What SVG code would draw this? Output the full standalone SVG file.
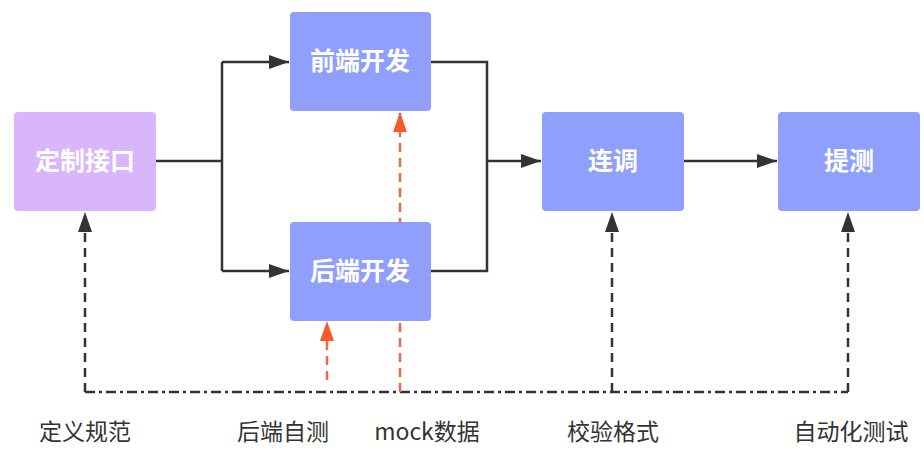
<svg xmlns="http://www.w3.org/2000/svg" width="924" height="455" viewBox="0 0 924 455">
<style>
.box{fill:#8f9ffb}
.purple{fill:#d9b6fb}
.nt{font-family:"Noto Sans CJK SC","Noto Sans",sans-serif;font-size:25px;font-weight:bold;fill:#ffffff;text-anchor:middle}
.lt{font-family:"Noto Sans CJK SC","Noto Sans",sans-serif;font-size:23px;fill:#333333;text-anchor:middle}
.solid{stroke:#333333;stroke-width:2.5;fill:none}
.dash{stroke:#333333;stroke-width:2.5;fill:none;stroke-dasharray:9 6}
.dashdot{stroke:#333333;stroke-width:2.5;fill:none;stroke-dasharray:10 4 3 4}
.odash{stroke:#f06a45;stroke-width:2.5;fill:none;stroke-dasharray:9 6}
</style>
<defs>
<marker id="ab" viewBox="0 0 20 14" refX="20" refY="7" markerWidth="20" markerHeight="14" markerUnits="userSpaceOnUse" orient="auto">
<path d="M0,0 L20,7 L0,14 Z" fill="#333333"/>
</marker>
<marker id="ao" viewBox="0 0 20 14" refX="20" refY="7" markerWidth="20" markerHeight="14" markerUnits="userSpaceOnUse" orient="auto">
<path d="M0,0 L20,7 L0,14 Z" fill="#f75a2a"/>
</marker>
</defs>
<rect width="924" height="455" fill="#ffffff"/>
<g id="connectors">
<path class="solid" d="M156,161 H222 M222,62 V271"/>
<path class="solid" d="M222,62 H289" marker-end="url(#ab)"/>
<path class="solid" d="M222,271 H289" marker-end="url(#ab)"/>
<path class="solid" d="M431,62 H487 V271 H431"/>
<path class="solid" d="M487,161 H541" marker-end="url(#ab)"/>
<path class="solid" d="M684,161 H777" marker-end="url(#ab)"/>
<path class="dashdot" d="M85,392 H848"/>
<path class="dash" d="M85,392 V212" marker-end="url(#ab)"/>
<path class="dash" d="M612,392 V212" marker-end="url(#ab)"/>
<path class="dash" d="M848,392 V212" marker-end="url(#ab)"/>
<path class="odash" d="M327,380 V321" marker-end="url(#ao)"/>
<path class="odash" d="M400,392 V112" marker-end="url(#ao)"/>
</g>
<g id="n-define">
<rect class="purple" x="14" y="112" width="142" height="99" rx="4"/>
<text class="nt" x="85" y="170">定制接口</text>
</g>
<g id="n-frontend">
<rect class="box" x="290" y="12" width="141" height="99" rx="4"/>
<text class="nt" x="360" y="70">前端开发</text>
</g>
<g id="n-backend">
<rect class="box" x="290" y="222" width="141" height="99" rx="4"/>
<text class="nt" x="360" y="280">后端开发</text>
</g>
<g id="n-joint">
<rect class="box" x="542" y="112" width="142" height="99" rx="4"/>
<text class="nt" x="613" y="170">连调</text>
</g>
<g id="n-test">
<rect class="box" x="778" y="112" width="142" height="99" rx="4"/>
<text class="nt" x="849" y="170">提测</text>
</g>
<g id="labels">
<text class="lt" x="85" y="440">定义规范</text>
<text class="lt" x="283" y="440">后端自测</text>
<text class="lt" x="427" y="440">mock数据</text>
<text class="lt" x="613" y="440">校验格式</text>
<text class="lt" x="851" y="440">自动化测试</text>
</g>
</svg>
